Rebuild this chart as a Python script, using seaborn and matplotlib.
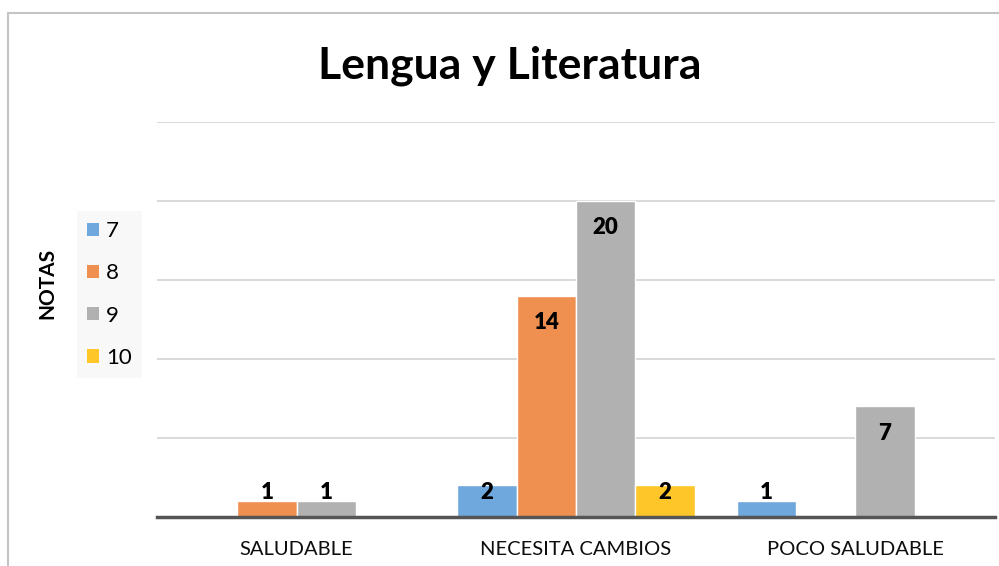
import numpy as np
import pandas as pd
import matplotlib
matplotlib.use("Agg")
import matplotlib.pyplot as plt
from matplotlib.lines import Line2D
from matplotlib.patches import Patch
import seaborn as sns

categories = ["SALUDABLE", "NECESITA CAMBIOS", "POCO SALUDABLE"]
series = ["7", "8", "9", "10"]
vals_7 = [np.nan, 2, 1]
vals_8 = [1, 14, np.nan]
vals_9 = [1, 20, 7]
vals_10 = [np.nan, 2, np.nan]
colors = ["#6FA8DC", "#EF9050", "#B1B1B1", "#FFC62A"]

rows = []
for s, vals in zip(series, [vals_7, vals_8, vals_9, vals_10]):
    for c, v in zip(categories, vals):
        rows.append({"cat": c, "nota": s, "val": v})
df = pd.DataFrame(rows)

sns.set_style("white")
plt.rcParams["font.family"] = ["Lato", "DejaVu Sans"]
plt.rcParams["text.color"] = "black"

fig = plt.figure(figsize=(9.99, 5.66), dpi=100)
ax = fig.add_axes([157/999, 1-517/566, (995-157)/999, (517-122)/566])

sns.barplot(data=df.dropna(), x="cat", y="val", hue="nota", order=categories,
            hue_order=series, palette=colors, width=0.85, ax=ax,
            edgecolor="white", linewidth=1, saturation=1, zorder=2)

ax.set_xlim(-0.5, 2.5)
ax.set_ylim(0, 25)
ax.set_yticks([0, 5, 10, 15, 20, 25])
ax.set_yticklabels([])
ax.tick_params(axis="y", length=0)
ax.tick_params(axis="x", length=0, labelsize=14.5, pad=17, colors="#0d0d0d")
ax.grid(axis="y", color="#cfcfcf", linewidth=1.1, zorder=0)
ax.set_axisbelow(True)
for sp in ["top", "right", "left"]:
    ax.spines[sp].set_visible(False)
ax.spines["bottom"].set_color("#555555")
ax.spines["bottom"].set_linewidth(2.5)
ax.spines["bottom"].set_zorder(5)
ax.set_xlabel("")
ax.set_ylabel("")

# data labels
for cont in ax.containers:
    for bar in cont:
        h = bar.get_height()
        if np.isnan(h) or h == 0:
            continue
        y = max(h - 1.7, 1.55)
        ax.text(bar.get_x() + bar.get_width()/2, y, f"{int(h)}", ha="center", va="center",
                fontsize=16, fontweight="heavy", color="black", zorder=6)

ax.get_legend().remove()
handles = [Patch(facecolor=c, edgecolor="none") for c in colors]
leg = fig.legend(handles, series, loc="center", bbox_to_anchor=(109.5/999, 1-294.5/566),
                 frameon=True, fontsize=16, handlelength=0.55, handleheight=0.55,
                 handletextpad=0.3, labelspacing=1.0, borderpad=0.45, fancybox=False)
leg.get_frame().set_facecolor("#f7f7f7")
leg.get_frame().set_edgecolor("none")
for t in leg.get_texts():
    t.set_color("black")

fig.text(47/999, 1-283/566, "NOTAS", rotation=90, ha="center", va="center",
         fontsize=15, fontweight="bold", color="black")
fig.text(510/999, 1-66/566, "Lengua y Literatura", ha="center", va="center",
         fontsize=32, fontweight="bold", color="black")

fig.add_artist(Line2D([8/999, 8/999], [0, 1-13/566], transform=fig.transFigure,
                      color="#c4c4c4", linewidth=1.5))
fig.add_artist(Line2D([8/999, 1], [1-13/566, 1-13/566], transform=fig.transFigure,
                      color="#c4c4c4", linewidth=1.5))

fig.savefig("out.png", dpi=100)
